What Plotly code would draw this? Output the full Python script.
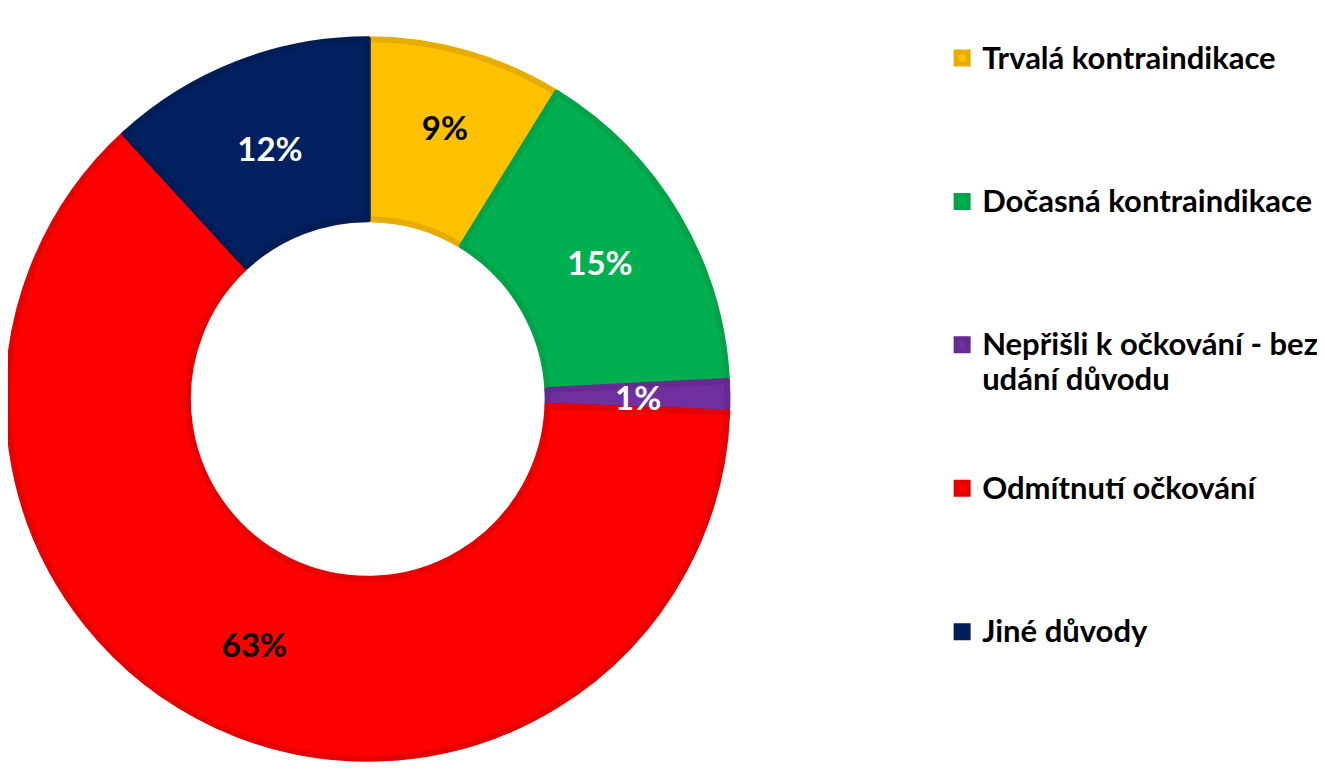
import math
import plotly.graph_objects as go

labels = [
    "Trvalá kontraindikace",
    "Dočasná kontraindikace",
    "Nepřišli k očkování - bez<br>udání důvodu",
    "Odmítnutí očkování",
    "Jiné důvody",
]
values = [8.8, 15.4, 1.4, 62.6, 11.8]
fill_colors = ["#FFC000", "#00B050", "#7030A0", "#FF0000", "#002060"]
line_colors = ["#E6AD00", "#00A347", "#652B90", "#E60000", "#001D56"]
text_colors = ["black", "white", "white", "black", "white"]

W, H = 1325, 782
DOM_X = 0.543
HOLE = 0.5
LABEL_SIZE = 33

# legend: pad every entry to 4 lines so entries are spread like the original
LINES_PER_ITEM = 4
legend_labels = []
for lab in labels:
    n = lab.count("<br>") + 1
    styled = "<br>".join(
        f"<span style='font-size:31px'>{part}</span>" for part in lab.split("<br>")
    )
    legend_labels.append(styled + "<br> " * (LINES_PER_ITEM - n))

# the thin slice gets its label placed in the middle of the ring
total = sum(values)
thin = [i for i, v in enumerate(values) if v / total < 0.03]
texttemplates = ["" if i in thin else "%{percent:.0%}" for i in range(len(values))]

fig = go.Figure(
    go.Pie(
        labels=legend_labels,
        values=values,
        hole=HOLE,
        sort=False,
        direction="clockwise",
        rotation=0,
        marker=dict(colors=fill_colors, line=dict(color=line_colors, width=6)),
        texttemplate=texttemplates,
        textposition="inside",
        insidetextorientation="horizontal",
        textfont=dict(family="Lato", size=LABEL_SIZE, color=text_colors, weight="bold"),
        hovertemplate="%{percent:.0%}<extra></extra>",
        domain=dict(x=[0, DOM_X], y=[0, 1]),
    )
)

r = min(DOM_X * W, H) / 2
r_mid = (1 + HOLE) / 2 * r
cum = 0.0
for i, v in enumerate(values):
    if i in thin:
        theta = (cum + v / 2) / total * 2 * math.pi
        fig.add_annotation(
            x=DOM_X / 2 + r_mid * math.sin(theta) / W,
            y=0.5 + r_mid * math.cos(theta) / H,
            xref="paper",
            yref="paper",
            text=f"{round(v / total * 100)}%",
            showarrow=False,
            font=dict(family="Lato", size=LABEL_SIZE, color=text_colors[i], weight="bold"),
        )
    cum += v

fig.update_layout(
    width=W,
    height=H,
    margin=dict(l=0, r=0, t=0, b=0),
    paper_bgcolor="white",
    plot_bgcolor="white",
    uniformtext=dict(minsize=LABEL_SIZE, mode="show"),
    legend=dict(
        x=0.705,
        y=1 - 26 / H,
        xanchor="left",
        yanchor="top",
        valign="top",
        font=dict(family="Lato", size=27, color="black", weight="bold"),
        bgcolor="rgba(0,0,0,0)",
    ),
)

fig.write_html("out.html")
